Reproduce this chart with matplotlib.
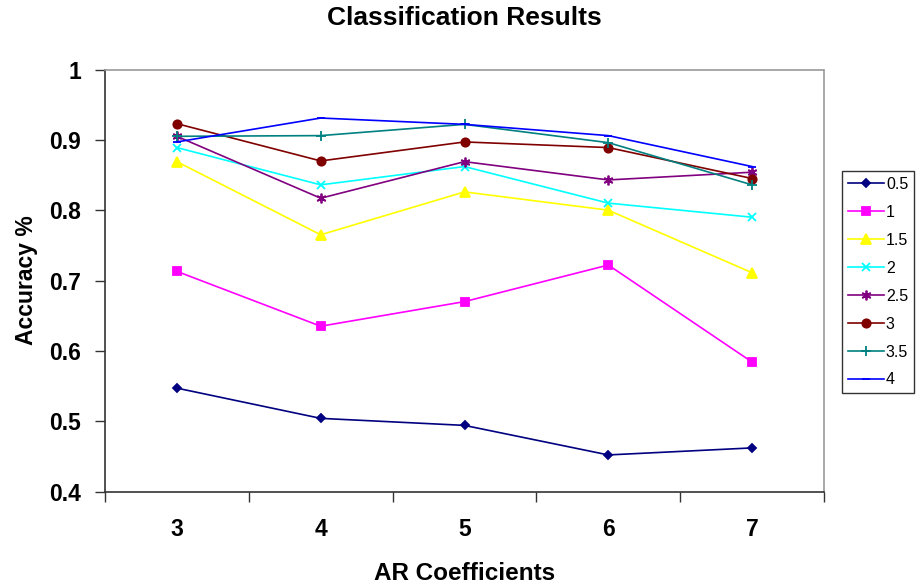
import matplotlib.pyplot as plt
import matplotlib.ticker as mticker

plt.rcParams['font.family'] = ['Liberation Sans', 'DejaVu Sans']

# AR coefficient counts on the x axis
coeffs = ['3', '4', '5', '6', '7']

# accuracy per series (one list per legend entry)
acc_05 = [0.547, 0.504, 0.494, 0.452, 0.462]
acc_1 = [0.713, 0.635, 0.670, 0.722, 0.584]
acc_15 = [0.869, 0.765, 0.826, 0.800, 0.711]
acc_2 = [0.889, 0.836, 0.862, 0.810, 0.790]
acc_25 = [0.905, 0.817, 0.869, 0.843, 0.854]
acc_3 = [0.923, 0.870, 0.897, 0.889, 0.845]
acc_35 = [0.905, 0.906, 0.922, 0.896, 0.836]
acc_4 = [0.897, 0.931, 0.922, 0.906, 0.862]

series = [
    ('0.5', acc_05, '#000080', 'D', 4.5),
    ('1', acc_1, '#FF00FF', 's', 5.5),
    ('1.5', acc_15, '#FFFF00', '^', 6.5),
    ('2', acc_2, '#00FFFF', 'x', 6),
    ('2.5', acc_25, '#800080', (6, 2, 0), 7),
    ('3', acc_3, '#800000', 'o', 6),
    ('3.5', acc_35, '#008080', '+', 7),
    ('4', acc_4, '#0000FF', '_', 6),
]

fig = plt.figure(figsize=(9.16, 5.88), dpi=100)
ax = fig.add_axes([0.1146, 0.1641, 0.785, 0.7177])

x = list(range(len(coeffs)))
for label, vals, col, mk, ms in series:
    ax.plot(x, vals, color=col, lw=1.2, marker=mk, markersize=ms,
            markerfacecolor=col, markeredgecolor=col, markeredgewidth=1.3,
            label=label)

ax.set_xlim(-0.5, len(coeffs) - 0.5)
ax.set_ylim(0.4, 1.0)

# category labels centred, ticks on the category boundaries
ax.xaxis.set_major_locator(mticker.FixedLocator([i - 0.5 for i in range(len(coeffs) + 1)]))
ax.xaxis.set_major_formatter(mticker.NullFormatter())
ax.xaxis.set_minor_locator(mticker.FixedLocator(x))
ax.xaxis.set_minor_formatter(mticker.FixedFormatter(coeffs))
ax.tick_params(axis='x', which='major', direction='out', length=7, width=1, color='#333333')
ax.tick_params(axis='x', which='minor', length=0, pad=19, labelsize=16.5)
for t in ax.xaxis.get_minorticklabels():
    t.set_fontweight('bold')

ax.yaxis.set_major_locator(mticker.MultipleLocator(0.1))
ax.yaxis.set_major_formatter(mticker.FuncFormatter(lambda v, p: f'{v:g}'))
ax.tick_params(axis='y', direction='out', length=7, width=1, color='#333333',
               labelsize=16.5, pad=10)
for t in ax.get_yticklabels():
    t.set_fontweight('bold')

for s in ['left', 'bottom']:
    ax.spines[s].set_color('#333333')
    ax.spines[s].set_linewidth(1.2)
for s in ['top', 'right']:
    ax.spines[s].set_color('#999999')
    ax.spines[s].set_linestyle((0, (2, 1)))
    ax.spines[s].set_linewidth(1.2)

ax.set_title('Classification Results', fontsize=19, fontweight='bold', pad=32)
ax.set_xlabel('AR Coefficients', fontsize=17.5, fontweight='bold', labelpad=15)
ax.set_ylabel('Accuracy %', fontsize=16.5, fontweight='bold', labelpad=8)

leg = ax.legend(loc='center left', bbox_to_anchor=(1.025, 0.496), frameon=True,
                fancybox=False, edgecolor='black', fontsize=11.5,
                handlelength=2.25, handletextpad=0.15, labelspacing=0.81,
                borderpad=0.35, borderaxespad=0)
leg.get_frame().set_linewidth(1.0)

fig.savefig('out.png', dpi=100)
